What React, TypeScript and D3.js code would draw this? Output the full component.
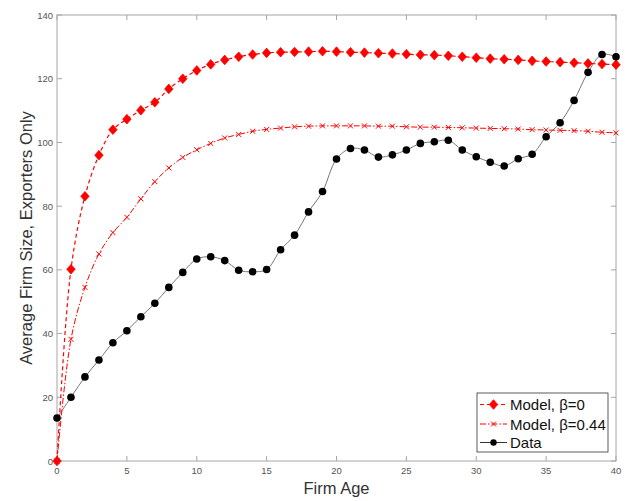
import React from "react";
import * as d3 from "d3";

const ages = d3.range(0, 41);
const model0 = [0, 60.2, 83.1, 96, 104, 107.3, 110.1, 112.6, 116.8, 120, 122.6, 124.5, 125.9, 126.9, 127.6, 128.1, 128.3, 128.4, 128.5, 128.6, 128.5, 128.3, 128.2, 128.0, 127.9, 127.7, 127.5, 127.4, 127.2, 126.9, 126.6, 126.3, 126.1, 125.9, 125.6, 125.4, 125.2, 125.0, 124.8, 124.6, 124.4];
const model44 = [0, 38.2, 54.5, 65, 71.7, 76.5, 82.3, 87.7, 92, 95.3, 97.7, 99.7, 101.4, 102.5, 103.5, 104.1, 104.5, 104.9, 105.1, 105.2, 105.2, 105.2, 105.2, 105.1, 105.1, 104.9, 104.8, 104.8, 104.7, 104.6, 104.5, 104.4, 104.3, 104.2, 104.0, 103.9, 103.8, 103.7, 103.5, 103.2, 103.0];
const dataSeries = [13.5, 20, 26.4, 31.7, 37.1, 40.9, 45.3, 49.5, 54.5, 59.2, 63.4, 64.1, 62.9, 59.9, 59.4, 60.1, 66.3, 70.9, 78.2, 84.6, 94.8, 98.1, 97.6, 95.4, 96.1, 97.6, 99.7, 100.2, 100.7, 97.6, 95.5, 93.8, 92.6, 94.9, 96.3, 101.8, 106.2, 113.2, 122, 127.6, 126.9];
const xTicks = [0, 5, 10, 15, 20, 25, 30, 35, 40];
const yTicks = [0, 20, 40, 60, 80, 100, 120, 140];
const legendLabels = ["Model, \u03b2=0", "Model, \u03b2=0.44", "Data"];

const W = 625, H = 501;
const L = 57, R = 616, T = 15, B = 461;

export default function App() {
  const x = d3.scaleLinear().domain([0, 40]).range([L, R]);
  const y = d3.scaleLinear().domain([0, 140]).range([B, T]);
  const line = (vals: number[]) =>
    d3.line<number>().x((_, i) => x(ages[i])).y((v) => y(v)).curve(d3.curveCatmullRom)(vals) || "";
  const diamond = (cx: number, cy: number) =>
    `M${cx},${cy - 4.8}L${cx + 4.2},${cy}L${cx},${cy + 4.8}L${cx - 4.2},${cy}Z`;
  const cross = (cx: number, cy: number, s = 2.5) =>
    `M${cx - s},${cy - s}L${cx + s},${cy + s}M${cx - s},${cy + s}L${cx + s},${cy - s}`;
  const axisColor = "#a6a6a6";
  const tickColor = "#555";
  const font = "'Liberation Sans', Arial, sans-serif";

  const lx0 = 477, ly0 = 393, lw = 131, lh = 59;
  const rows = [404.5, 424, 442.5];

  return (
    <svg width={W} height={H} style={{ display: "block", position: "absolute", left: 0, top: 0 }} fontFamily={font}>
      <rect x={0} y={0} width={W} height={H} fill="#fff" />
      {/* box */}
      <rect x={L} y={T} width={R - L} height={B - T} fill="none" stroke={axisColor} strokeWidth={1} />
      {xTicks.map((t) => (
        <g key={"xt" + t}>
          <line x1={x(t)} x2={x(t)} y1={B} y2={B - 5} stroke={axisColor} />
          <line x1={x(t)} x2={x(t)} y1={T} y2={T + 5} stroke={axisColor} />
          <text x={x(t)} y={B + 13} fontSize={9.5} fill={tickColor} textAnchor="middle">{t}</text>
        </g>
      ))}
      {yTicks.map((t) => (
        <g key={"yt" + t}>
          <line x1={L} x2={L + 5} y1={y(t)} y2={y(t)} stroke={axisColor} />
          <line x1={R} x2={R - 5} y1={y(t)} y2={y(t)} stroke={axisColor} />
          <text x={L - 4} y={y(t) + 3.5} fontSize={9.5} fill={tickColor} textAnchor="end">{t}</text>
        </g>
      ))}
      {/* series */}
      <path d={line(dataSeries)} fill="none" stroke="#777" strokeWidth={1} />
      <path d={line(model44)} fill="none" stroke="#ff0000" strokeWidth={1} strokeDasharray="6,2,1.5,2" />
      <path d={line(model0)} fill="none" stroke="#ff0000" strokeWidth={1.2} strokeDasharray="4,3" />
      {model44.map((v, i) => (
        <path key={"m44" + i} d={cross(x(ages[i]), y(v))} stroke="#ff0000" strokeWidth={1} fill="none" />
      ))}
      {model0.map((v, i) => (
        <path key={"m0" + i} d={diamond(x(ages[i]), y(v))} fill="#ff0000" stroke="#ff0000" strokeWidth={0.8} />
      ))}
      {dataSeries.map((v, i) => (
        <circle key={"d" + i} cx={x(ages[i])} cy={y(v)} r={3.8} fill="#000" />
      ))}
      {/* legend */}
      <rect x={lx0} y={ly0} width={lw} height={lh} fill="#fff" stroke="#333" strokeWidth={0.8} />
      <line x1={480} x2={507} y1={rows[0]} y2={rows[0]} stroke="#ff0000" strokeWidth={1.2} strokeDasharray="4,3" />
      <path d={diamond(493.5, rows[0])} fill="#ff0000" stroke="#ff0000" strokeWidth={0.8} />
      <line x1={480} x2={507} y1={rows[1]} y2={rows[1]} stroke="#ff0000" strokeWidth={1} strokeDasharray="6,2,1.5,2" />
      <path d={cross(493.5, rows[1])} stroke="#ff0000" strokeWidth={1} fill="none" />
      <line x1={480} x2={507} y1={rows[2]} y2={rows[2]} stroke="#333" strokeWidth={1} />
      <circle cx={493.5} cy={rows[2]} r={3.2} fill="#000" />
      {legendLabels.map((s, i) => (
        <text key={s} x={510} y={rows[i] + 5.5} fontSize={15} fill="#111">{s}</text>
      ))}
      {/* axis labels */}
      <text x={(L + R) / 2} y={494} fontSize={16.5} fill="#333" textAnchor="middle">Firm Age</text>
      <text transform={`translate(32,${(T + B) / 2}) rotate(-90)`} fontSize={16.5} fill="#333" textAnchor="middle">
        Average Firm Size, Exporters Only
      </text>
    </svg>
  );
}
